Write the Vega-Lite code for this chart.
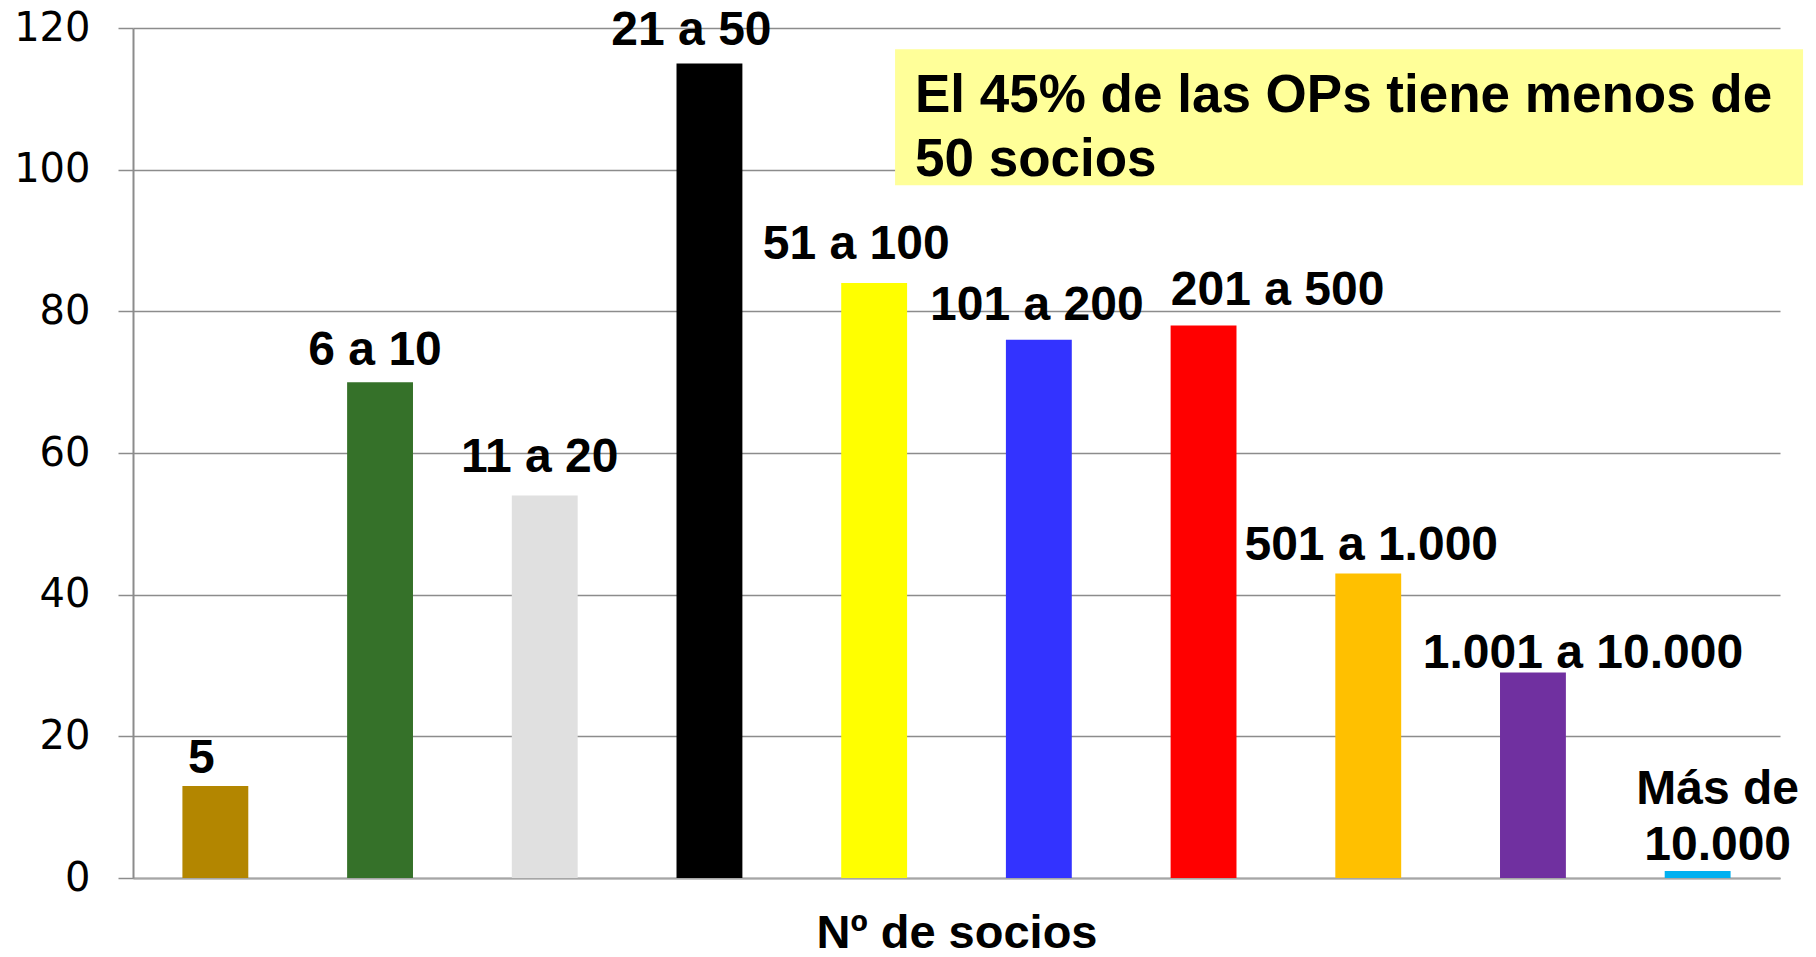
{
  "$schema": "https://vega.github.io/schema/vega-lite/v6.json",
  "width": 1647,
  "height": 850,
  "autosize": {"type": "none"},
  "padding": {"left": 133, "top": 28, "right": 36, "bottom": 79},
  "background": "white",
  "config": {"view": {"stroke": null}, "text": {"font": "Liberation Sans", "fontSize": 48, "fontWeight": "bold", "color": "black", "baseline": "alphabetic"}},
  "datasets": {
    "bars": [
      {"grupo": "5", "etiqueta": "5", "n": 13},
      {"grupo": "6 a 10", "etiqueta": "6 a 10", "n": 70},
      {"grupo": "11 a 20", "etiqueta": "11 a 20", "n": 54},
      {"grupo": "21 a 50", "etiqueta": "21 a 50", "n": 115},
      {"grupo": "51 a 100", "etiqueta": "51 a 100", "n": 84},
      {"grupo": "101 a 200", "etiqueta": "101 a 200", "n": 76},
      {"grupo": "201 a 500", "etiqueta": "201 a 500", "n": 78},
      {"grupo": "501 a 1.000", "etiqueta": "501 a 1.000", "n": 43},
      {"grupo": "1.001 a 10.000", "etiqueta": "1.001 a 10.000", "n": 29},
      {"grupo": "Más de 10.000", "etiqueta": "Más de\n10.000", "n": 1}
    ],
    "note": [
      {"x1": 4.627, "x2": 10.14, "y1": 117.0, "y2": 97.8, "tx": 4.748, "ty": 108.1, "texto": "El 45% de las OPs tiene menos de\n50 socios"}
    ]
  },
  "layer": [
    {
      "data": {"name": "bars"},
      "mark": {"type": "bar", "width": {"band": 0.4}},
      "encoding": {
        "x": {
          "field": "grupo", "type": "nominal", "sort": null,
          "scale": {"paddingInner": 0, "paddingOuter": 0},
          "axis": {
            "labels": false, "ticks": false, "domain": true,
            "domainColor": "#a6a6a6", "domainWidth": 2,
            "title": "Nº de socios",
            "titleFont": "Liberation Sans", "titleFontSize": 47, "titleFontWeight": "bold",
            "titleColor": "black", "titleBaseline": "alphabetic", "titleY": 69
          }
        },
        "y": {
          "field": "n", "type": "quantitative",
          "scale": {"domain": [0, 120]},
          "axis": {
            "title": null, "values": [0, 20, 40, 60, 80, 100, 120],
            "grid": true, "gridColor": "#8c8c8c", "gridWidth": 1.5,
            "domain": true, "domainColor": "#8c8c8c", "domainWidth": 2,
            "ticks": true, "tickSize": 15, "tickColor": "#8c8c8c", "tickWidth": 1.5,
            "labelFont": "DejaVu Sans", "labelFontSize": 40, "labelColor": "black",
            "labelPadding": 28
          }
        },
        "color": {
          "field": "grupo", "type": "nominal", "sort": null, "legend": null,
          "scale": {"range": ["#B38600", "#357129", "#E0E0E0", "#000000", "#FFFF00", "#3333FF", "#FF0000", "#FFC000", "#7030A0", "#00B0F0"]}
        }
      }
    },
    {
      "data": {"name": "bars"},
      "encoding": {
        "x": {"field": "grupo", "type": "nominal", "sort": null, "scale": {"paddingInner": 0, "paddingOuter": 0}, "axis": null},
        "y": {"field": "n", "type": "quantitative", "scale": {"domain": [0, 120]}, "axis": null},
        "text": {"field": "etiqueta"}
      },
      "layer": [
        {"transform": [{"filter": {"field": "grupo", "equal": "5"}}], "mark": {"type": "text", "dx": -14, "dy": -13}},
        {"transform": [{"filter": {"field": "grupo", "equal": "6 a 10"}}], "mark": {"type": "text", "dx": -5, "dy": -17}},
        {"transform": [{"filter": {"field": "grupo", "equal": "11 a 20"}}], "mark": {"type": "text", "dx": -5, "dy": -24}},
        {"transform": [{"filter": {"field": "grupo", "equal": "21 a 50"}}], "mark": {"type": "text", "dx": -18, "dy": -18}},
        {"transform": [{"filter": {"field": "grupo", "equal": "51 a 100"}}], "mark": {"type": "text", "dx": -18, "dy": -24}},
        {"transform": [{"filter": {"field": "grupo", "equal": "101 a 200"}}], "mark": {"type": "text", "dx": -2, "dy": -20}},
        {"transform": [{"filter": {"field": "grupo", "equal": "201 a 500"}}], "mark": {"type": "text", "dx": 74, "dy": -21}},
        {"transform": [{"filter": {"field": "grupo", "equal": "501 a 1.000"}}], "mark": {"type": "text", "dx": 3, "dy": -13}},
        {"transform": [{"filter": {"field": "grupo", "equal": "1.001 a 10.000"}}], "mark": {"type": "text", "dx": 50, "dy": -5}},
        {"transform": [{"filter": {"field": "grupo", "equal": "Más de 10.000"}}], "mark": {"type": "text", "dx": 20, "dy": -67, "lineBreak": "\n", "lineHeight": 56}}
      ]
    },
    {
      "data": {"name": "note"},
      "mark": {"type": "rect", "color": "#FFFF99"},
      "encoding": {
        "x": {"field": "x1", "type": "quantitative", "scale": {"domain": [0, 10], "nice": false, "zero": false}, "axis": null},
        "x2": {"field": "x2"},
        "y": {"field": "y1", "type": "quantitative", "scale": {"domain": [0, 120]}, "axis": null},
        "y2": {"field": "y2"}
      }
    },
    {
      "data": {"name": "note"},
      "mark": {"type": "text", "font": "Liberation Sans", "fontSize": 53, "fontWeight": "bold", "color": "black", "align": "left", "baseline": "alphabetic", "lineBreak": "\n", "lineHeight": 64},
      "encoding": {
        "x": {"field": "tx", "type": "quantitative", "scale": {"domain": [0, 10], "nice": false, "zero": false}, "axis": null},
        "y": {"field": "ty", "type": "quantitative", "scale": {"domain": [0, 120]}, "axis": null},
        "text": {"field": "texto"}
      }
    }
  ],
  "resolve": {"scale": {"x": "independent", "y": "independent"}}
}
